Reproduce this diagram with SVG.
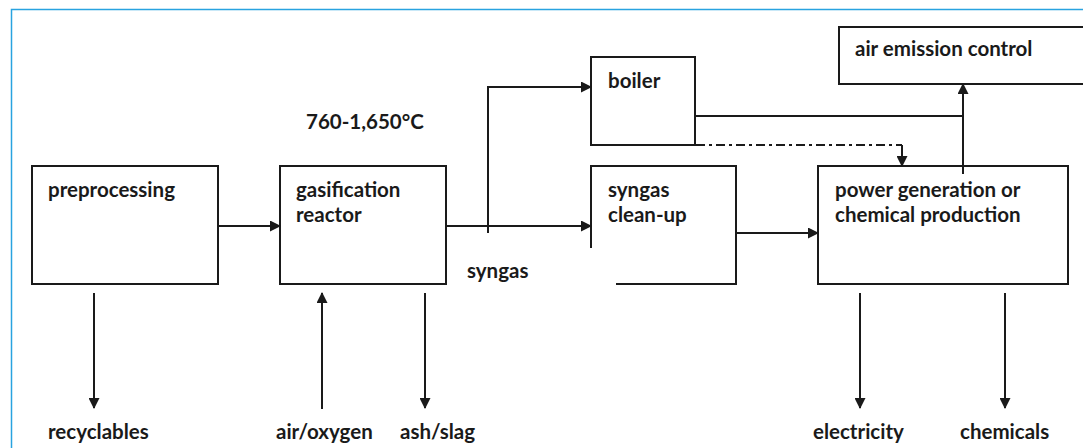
<svg xmlns="http://www.w3.org/2000/svg" width="1083" height="448" viewBox="0 0 1083 448">
<defs>
<marker id="ah" markerWidth="11" markerHeight="11" refX="10" refY="5.5" orient="auto" markerUnits="userSpaceOnUse">
<path d="M0,0 L11,5.5 L0,11 Z" fill="#1a1a1a"/>
</marker>
<style>
.box{fill:none;stroke:#1a1a1a;stroke-width:2}
.ln{fill:none;stroke:#1a1a1a;stroke-width:2}
.t{font-family:Lato,"Liberation Sans",sans-serif;font-weight:bold;font-size:20.5px;fill:#1a1a1a}
</style>
</defs>
<rect x="0" y="0" width="1083" height="448" fill="#ffffff"/>
<path d="M11.5,448 V9.5 H1083" fill="none" stroke="#29a3e0" stroke-width="1.5"/>
<g id="preprocessing">
<rect class="box" x="32" y="166" width="186" height="118"/>
<text class="t" x="48" y="197">preprocessing</text>
</g>
<g id="gasification">
<rect class="box" x="280" y="166" width="166" height="118"/>
<text class="t" x="296" y="197">gasification</text>
<text class="t" x="296" y="222">reactor</text>
</g>
<g id="boiler">
<rect class="box" x="591" y="57" width="104" height="88"/>
<text class="t" x="608" y="88">boiler</text>
</g>
<g id="cleanup">
<path class="box" d="M591,248 V166 H736 V284 H616"/>
<text class="t" x="608" y="197">syngas</text>
<text class="t" x="608" y="222">clean-up</text>
</g>
<g id="power">
<rect class="box" x="818" y="166" width="250" height="118"/>
<text class="t" x="835" y="197">power generation or</text>
<text class="t" x="835" y="222">chemical production</text>
</g>
<g id="emission">
<rect class="box" x="839" y="27" width="250" height="57"/>
<text class="t" x="855" y="56">air emission control</text>
</g>
<g id="labels">
<text class="t" x="306" y="129">760-1,650°C</text>
<text class="t" x="467" y="278">syngas</text>
<text class="t" x="48" y="439">recyclables</text>
<text class="t" x="276" y="439">air/oxygen</text>
<text class="t" x="400" y="439">ash/slag</text>
<text class="t" x="813" y="439">electricity</text>
<text class="t" x="960" y="439">chemicals</text>
</g>
<g id="connectors">
<line class="ln" x1="218" y1="226" x2="280" y2="226" marker-end="url(#ah)"/>
<line class="ln" x1="446" y1="226" x2="591" y2="226" marker-end="url(#ah)"/>
<path class="ln" d="M488,233 V87 H591" marker-end="url(#ah)"/>
<line class="ln" x1="736" y1="233" x2="818" y2="233" marker-end="url(#ah)"/>
<path class="ln" d="M695,116 H963"/>
<line class="ln" x1="963" y1="174" x2="963" y2="84" marker-end="url(#ah)"/>
<path class="ln" d="M696,145 H902" stroke-dasharray="9,4,3,4"/>
<line class="ln" x1="902" y1="145" x2="902" y2="166" marker-end="url(#ah)"/>
<line class="ln" x1="94" y1="293" x2="94" y2="408" marker-end="url(#ah)"/>
<line class="ln" x1="322" y1="409" x2="322" y2="293" marker-end="url(#ah)"/>
<line class="ln" x1="425" y1="293" x2="425" y2="408" marker-end="url(#ah)"/>
<line class="ln" x1="860" y1="293" x2="860" y2="408" marker-end="url(#ah)"/>
<line class="ln" x1="1005" y1="293" x2="1005" y2="408" marker-end="url(#ah)"/>
</g>
</svg>
